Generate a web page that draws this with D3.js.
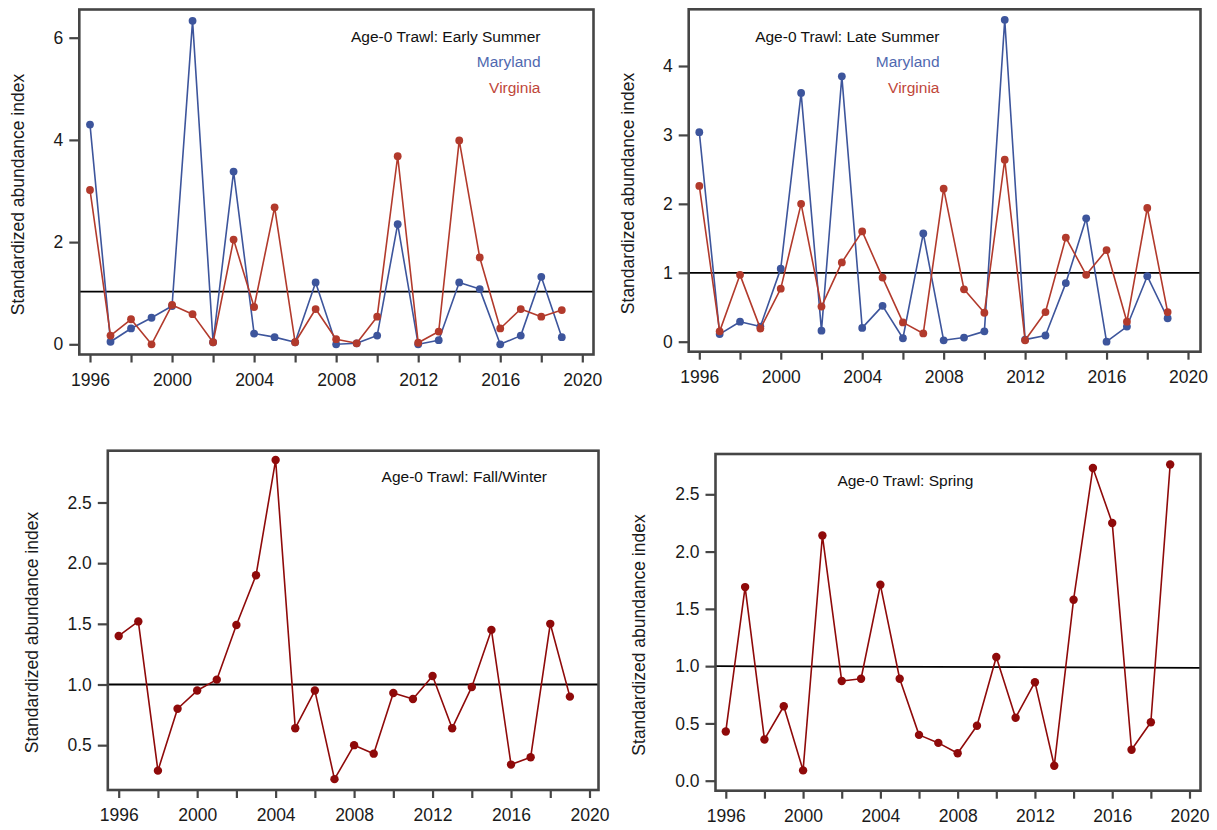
<!DOCTYPE html>
<html>
<head>
<meta charset="utf-8">
<script src="https://cdn.jsdelivr.net/npm/d3@7"></script>
<style>
  html, body { margin: 0; padding: 0; background: #fff; }
  svg { display: block; font-family: "Liberation Sans", Arial, sans-serif; }
</style>
</head>
<body>
<svg id="chart" width="1217" height="830"></svg>
<script>
// Survey years shared by all four indices
const years = d3.range(1996, 2020);

// Age-0 trawl, early summer
const earlyMaryland = [4.30, 0.05, 0.31, 0.52, 0.75, 6.33, 0.04, 3.38, 0.21, 0.14, 0.04, 1.21,
                       0.00, 0.02, 0.17, 2.35, 0.00, 0.08, 1.21, 1.08, 0.00, 0.17, 1.32, 0.14];
const earlyVirginia = [3.02, 0.17, 0.49, 0.00, 0.77, 0.59, 0.04, 2.05, 0.73, 2.68, 0.04, 0.69,
                       0.10, 0.02, 0.54, 3.68, 0.03, 0.25, 3.99, 1.70, 0.31, 0.69, 0.54, 0.67];

// Age-0 trawl, late summer
const lateMaryland = [3.04, 0.11, 0.29, 0.22, 1.06, 3.61, 0.16, 3.85, 0.20, 0.52, 0.05, 1.57,
                      0.02, 0.06, 0.15, 4.67, 0.03, 0.09, 0.85, 1.79, 0.00, 0.22, 0.95, 0.34];
const lateVirginia = [2.26, 0.15, 0.97, 0.19, 0.77, 2.00, 0.51, 1.15, 1.60, 0.93, 0.28, 0.12,
                      2.22, 0.76, 0.42, 2.64, 0.02, 0.43, 1.51, 0.97, 1.33, 0.29, 1.94, 0.43];

// Age-0 trawl, fall/winter
const fallWinter = [1.40, 1.52, 0.29, 0.80, 0.95, 1.04, 1.49, 1.90, 2.85, 0.64, 0.95, 0.22,
                    0.50, 0.43, 0.93, 0.88, 1.07, 0.64, 0.98, 1.45, 0.34, 0.40, 1.50, 0.90];

// Age-0 trawl, spring
const spring = [0.43, 1.69, 0.36, 0.65, 0.09, 2.14, 0.87, 0.89, 1.71, 0.89, 0.40, 0.33,
                0.24, 0.48, 1.08, 0.55, 0.86, 0.13, 1.58, 2.73, 2.25, 0.27, 0.51, 2.76];

// Axis ticks
const xTickYears = d3.range(1996, 2021, 2);
const xLabelYears = [1996, 2000, 2004, 2008, 2012, 2016, 2020];
const yTicksEarly = [0, 2, 4, 6];
const yTicksLate = [0, 1, 2, 3, 4];
const yTicksFall = [0.5, 1.0, 1.5, 2.0, 2.5];
const yTicksSpring = [0.0, 0.5, 1.0, 1.5, 2.0, 2.5];

// Reference line levels (start, end)
const refEarly = [1.03, 1.03];
const refLate = [1.0, 1.0];
const refFall = [1.0, 1.0];
const refSpring = [1.0, 0.985];

const yLabel = "Standardized abundance index";

const colMD = "#3d559c", colVA = "#b23a2c", colSingle = "#8f0a0a";
const colMDText = "#5069b0", colVAText = "#c0473a";
const frameColor = "#454545";

const svg = d3.select("#chart");

const panels = [
  {
    frame: {l: 79.3, r: 593.5, t: 9.5, b: 354.5},
    xr: [90, 582.3], yd: [0, 6], yr: [344.3, 37.7],
    yTicks: yTicksEarly, fmt: d3.format("d"), ref: refEarly,
    series: [{v: earlyMaryland, c: colMD}, {v: earlyVirginia, c: colVA}],
    title: "Age-0 Trawl: Early Summer", titleX: 540.5, titleY: 42,
    legend: [{t: "Maryland", c: colMDText, y: 67}, {t: "Virginia", c: colVAText, y: 93}],
    labelX: 18, labelY: 194.5, r: 3.9
  },
  {
    frame: {l: 688.7, r: 1200.5, t: 9.3, b: 351.7},
    xr: [699.3, 1188], yd: [0, 4], yr: [341.7, 66],
    yTicks: yTicksLate, fmt: d3.format("d"), ref: refLate,
    series: [{v: lateMaryland, c: colMD}, {v: lateVirginia, c: colVA}],
    title: "Age-0 Trawl: Late Summer", titleX: 939.5, titleY: 42,
    legend: [{t: "Maryland", c: colMDText, y: 67}, {t: "Virginia", c: colVAText, y: 93}],
    labelX: 627.5, labelY: 193.5, r: 3.9
  },
  {
    frame: {l: 107.8, r: 598.5, t: 450.7, b: 790},
    xr: [118.7, 589.5], yd: [1.0, 2.5], yr: [684.5, 502.5],
    yTicks: yTicksFall, fmt: d3.format(".1f"), ref: refFall,
    series: [{v: fallWinter, c: colSingle}],
    title: "Age-0 Trawl: Fall/Winter", titleX: 547, titleY: 482.3,
    legend: [],
    labelX: 31.5, labelY: 632.5, r: 4.2
  },
  {
    frame: {l: 715.5, r: 1200.5, t: 454, b: 790.7},
    xr: [725.8, 1189.5], yd: [0, 2.5], yr: [780.7, 494.3],
    yTicks: yTicksSpring, fmt: d3.format(".1f"), ref: refSpring,
    series: [{v: spring, c: colSingle}],
    title: "Age-0 Trawl: Spring", titleX: 973.5, titleY: 486,
    legend: [],
    labelX: 639, labelY: 635, r: 4.2
  }
];

panels.forEach(p => {
  const f = p.frame;
  const x = d3.scaleLinear().domain([1996, 2020]).range(p.xr);
  const y = d3.scaleLinear().domain(p.yd).range(p.yr);
  const g = svg.append("g");

  // y axis ticks and labels on the left edge of the frame
  const yAxis = d3.axisLeft(y).tickValues(p.yTicks).tickFormat(p.fmt)
    .tickSize(10).tickPadding(6);
  const ya = g.append("g").attr("transform", `translate(${f.l},0)`).call(yAxis);
  ya.select(".domain").remove();

  // x axis: ticks every two years, labels every four
  const xAxis = d3.axisBottom(x).tickValues(xTickYears)
    .tickFormat(d => xLabelYears.includes(d) ? d3.format("d")(d) : "")
    .tickSize(8).tickPadding(11);
  const xa = g.append("g").attr("transform", `translate(0,${f.b})`).call(xAxis);
  xa.select(".domain").remove();

  [ya, xa].forEach(a => {
    a.selectAll(".tick line").attr("stroke", frameColor).attr("stroke-width", 2.2);
    a.selectAll(".tick text").attr("fill", "#1a1a1a")
      .style("font-size", "17.5px").style("font-family", "'Liberation Sans', Arial, sans-serif");
  });

  // reference line at index = 1
  g.append("line")
    .attr("x1", f.l).attr("x2", f.r)
    .attr("y1", y(p.ref[0])).attr("y2", y(p.ref[1]))
    .attr("stroke", "#000").attr("stroke-width", 1.8);

  // series lines and markers
  const line = d3.line().x((d, i) => x(years[i])).y(d => y(d));
  p.series.forEach(s => {
    g.append("path").datum(s.v)
      .attr("d", line).attr("fill", "none")
      .attr("stroke", s.c).attr("stroke-width", 1.6).attr("stroke-linejoin", "round");
    g.selectAll(null).data(s.v).enter().append("circle")
      .attr("cx", (d, i) => x(years[i])).attr("cy", d => y(d))
      .attr("r", p.r).attr("fill", s.c);
  });

  // frame
  g.append("rect")
    .attr("x", f.l).attr("y", f.t)
    .attr("width", f.r - f.l).attr("height", f.b - f.t)
    .attr("fill", "none").attr("stroke", frameColor).attr("stroke-width", 2.6);

  // panel title and legend
  g.append("text").attr("x", p.titleX).attr("y", p.titleY)
    .attr("text-anchor", "end").attr("fill", "#111")
    .style("font-size", "15.5px").text(p.title);
  p.legend.forEach(l => {
    g.append("text").attr("x", p.titleX).attr("y", l.y)
      .attr("text-anchor", "end").attr("fill", l.c)
      .style("font-size", "15.5px").text(l.t);
  });

  // y axis title
  g.append("text")
    .attr("transform", `translate(${p.labelX},${p.labelY}) rotate(-90)`)
    .attr("text-anchor", "middle").attr("dy", "0.35em")
    .attr("fill", "#1a1a1a").style("font-size", "17.5px").text(yLabel);
});
</script>
</body>
</html>
